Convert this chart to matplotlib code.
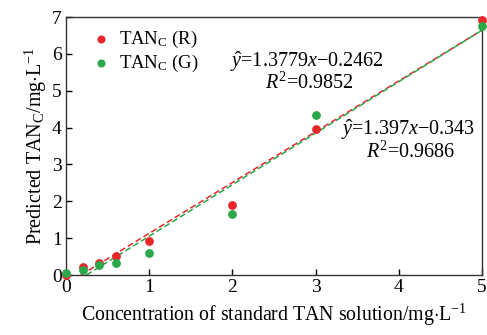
import numpy as np
import matplotlib
matplotlib.use("Agg")
import matplotlib.pyplot as plt

plt.rcParams['font.family'] = ['Liberation Serif', 'DejaVu Serif']
plt.rcParams['mathtext.fontset'] = 'custom'
plt.rcParams['mathtext.rm'] = 'Liberation Serif'
plt.rcParams['mathtext.it'] = 'Liberation Serif:italic'

# standard concentrations (mg/L)
conc = [0, 0.2, 0.4, 0.6, 1, 2, 3, 5]
# predicted TAN_C from R and G channels
pred_r = [0.0, 0.21, 0.33, 0.51, 0.92, 1.90, 3.95, 6.91]
pred_g = [0.06, 0.15, 0.26, 0.34, 0.61, 1.66, 4.34, 6.76]

# fitted lines
fit_r = (1.3779, -0.2462)
fit_g = (1.397, -0.343)

red = '#e8262a'
green = '#2aa84a'

fig = plt.figure(figsize=(4.87, 3.35), dpi=100)
ax = fig.add_axes([0.1355, 0.179, 0.854, 0.770])

ax.scatter(conc, pred_r, s=28, color=red, label=r'TAN$_\mathrm{C}$ (R)', zorder=3, clip_on=False)
ax.scatter(conc, pred_g, s=28, color=green, label=r'TAN$_\mathrm{C}$ (G)', zorder=3, clip_on=False)

for (k, b), c in [(fit_r, red), (fit_g, green)]:
    xs = np.array([-b / k, 5])
    ax.plot(xs, k * xs + b, ls='--', color=c, lw=1.1, dashes=(4, 2))

ax.text(1.97, 5.8, r'$\hat{y}$=1.3779$x$$-$0.2462', fontsize=14.5, va='center')
ax.text(2.39, 5.2, r'$R^2$=0.9852', fontsize=14.5, va='center')
ax.text(3.31, 3.95, r'$\hat{y}$=1.397$x$$-$0.343', fontsize=14.5, va='center')
ax.text(3.61, 3.34, r'$R^2$=0.9686', fontsize=14.5, va='center')

ax.set_xlim(0, 5)
ax.set_ylim(0, 7)
ax.set_xticks(range(6))
ax.set_yticks(range(8))
ax.tick_params(direction='in', labelsize=14, length=4, width=1, pad=3)
for s in ax.spines.values():
    s.set_linewidth(1.0)
    s.set_color('#333333')

ax.set_xlabel(r'Concentration of standard TAN solution/mg$\cdot$L$^{-1}$', fontsize=14.3, labelpad=4)
ax.set_ylabel(r'Predicted TAN$_\mathrm{C}$/mg$\cdot$L$^{-1}$', fontsize=14.5, labelpad=2)

ax.legend(loc='upper left', frameon=False, fontsize=13.5, handletextpad=0.0,
          borderaxespad=0.0, labelspacing=0.15, markerscale=0.9, bbox_to_anchor=(0.02, 0.985))

fig.savefig('out.png', dpi=100)
